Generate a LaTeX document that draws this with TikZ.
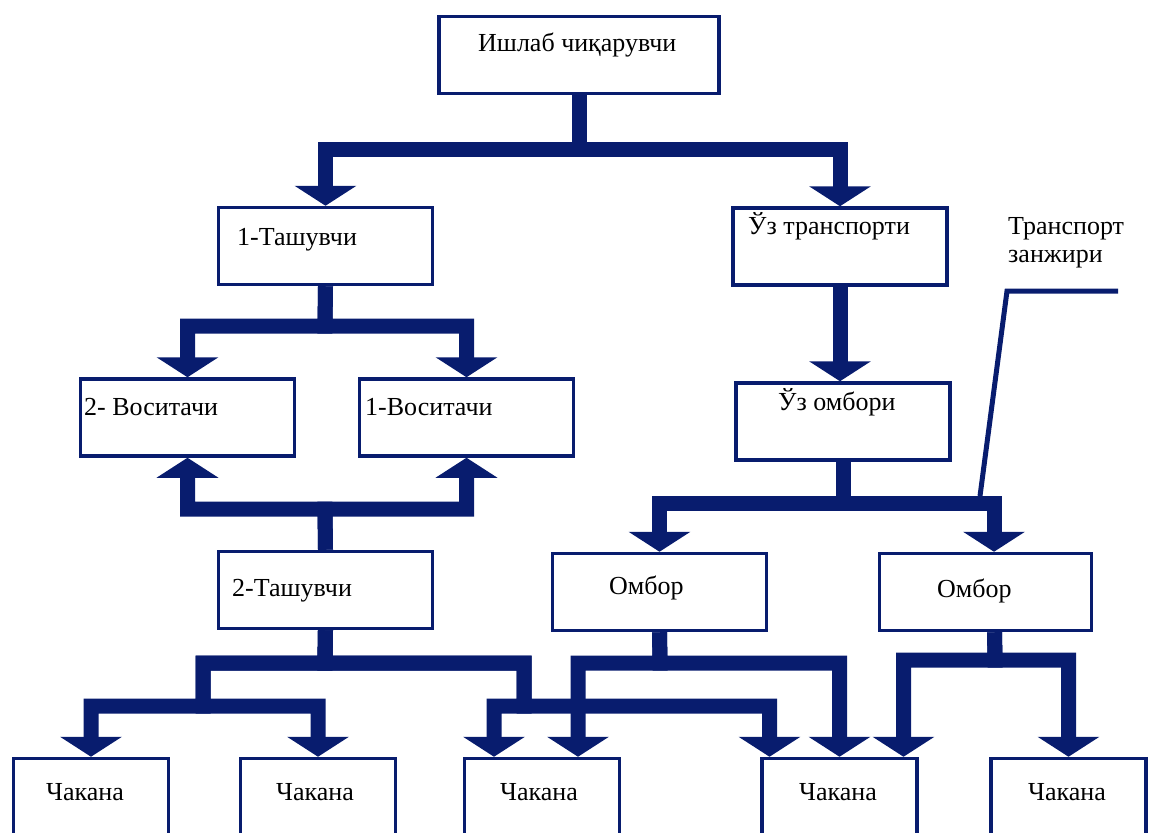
\documentclass[tikz,border=0pt]{standalone}
\usepackage{fontspec}
\setmainfont{Liberation Serif}
\usetikzlibrary{arrows.meta}

\definecolor{navy}{RGB}{8,28,110}

\tikzset{
  box/.style={rectangle, draw=navy, line width=3.5pt, minimum width=214pt, minimum height=77pt, inner sep=0pt},
  txt/.style={font=\fontsize{26}{28}\selectfont, inner sep=0pt, anchor=base west},
  flow/.style={line width=15pt, draw=navy, -{Triangle[width=61pt, length=20pt]}},
  hint/.style={line width=5pt, draw=navy},
}

\begin{document}
\begin{tikzpicture}[x=1pt, y=-1pt]
  \useasboundingbox (0,0) rectangle (1150,832);
  \clip (0,0) rectangle (1150,832);

  % Bloklar
  \node[box, minimum width=280pt] (ishlab) at (579, 55)    {};
  \node[box] (tash1)  at (325.5, 246)   {};
  \node[box] (uztr)   at (840, 246.5)   {};
  \node[box] (vos2)   at (187.5, 417.5) {};
  \node[box] (vos1)   at (466.5, 417.5) {};
  \node[box] (uzomb)  at (843, 421.5)   {};
  \node[box] (tash2)  at (325.5, 590)   {};
  \node[box] (omb1)   at (659.5, 592)   {};
  \node[box, minimum width=212pt] (omb2) at (985.5, 592) {};

  % Chakana (pastki qator)
  \node[box, minimum width=155pt] (chak1) at (91, 797)     {};
  \node[box, minimum width=155pt] (chak2) at (318, 797)    {};
  \node[box, minimum width=155pt] (chak3) at (542, 797)    {};
  \node[box, minimum width=155pt] (chak4) at (839.5, 797)  {};
  \node[box, minimum width=155pt] (chak5) at (1068.5, 797) {};

  % Matnlar
  \node[txt] (ishlab-t) at (478, 52)  {Ишлаб чиқарувчи};
  \node[txt] (tash1-t)  at (237, 245) {1-Ташувчи};
  \node[txt] (uztr-t)   at (748, 234) {Ўз транспорти};
  \node[txt] (vos2-t)   at (84, 415)  {2- Воситачи};
  \node[txt] (vos1-t)   at (365, 415) {1-Воситачи};
  \node[txt] (uzomb-t)  at (778, 410) {Ўз омбори};
  \node[txt] (tash2-t)  at (232, 596) {2-Ташувчи};
  \node[txt] (omb1-t)   at (609, 594) {Омбор};
  \node[txt] (omb2-t)   at (937, 597) {Омбор};
  \node[txt] (chak1-t)  at (46, 800)   {Чакана};
  \node[txt] (chak2-t)  at (276, 800)  {Чакана};
  \node[txt] (chak3-t)  at (500, 800)  {Чакана};
  \node[txt] (chak4-t)  at (799, 800)  {Чакана};
  \node[txt] (chak5-t)  at (1028, 800) {Чакана};
  \node[txt, anchor=north west, align=left] (zanjir) at (1008, 217) {Транспорт\\занжири};

  % Tugunlar
  \coordinate (j0) at (579, 149);
  \coordinate (j1) at (325, 326);
  \coordinate (j2) at (325, 509);
  \coordinate (j3) at (843, 503);
  \coordinate (j4) at (325, 663);
  \coordinate (j5) at (203, 706);
  \coordinate (j6) at (524, 706);
  \coordinate (j7) at (660, 663);
  \coordinate (j8) at (995, 660);

  % Ulanishlar
  \draw[flow] (ishlab.south) -- (j0) -| (tash1.north);
  \draw[flow] (ishlab.south) -- (j0) -| (uztr.north);
  \draw[flow] (tash1.south) -- (j1) -| (vos2.north);
  \draw[flow] (tash1.south) -- (j1) -| (vos1.north);
  \draw[flow] (tash2.north) -- (j2) -| (vos2.south);
  \draw[flow] (tash2.north) -- (j2) -| (vos1.south);
  \draw[flow] (uztr.south) -- (uztr.south |- uzomb.north);
  \draw[flow] (uzomb.south) -- (j3) -| (omb1.north);
  \draw[flow] (uzomb.south) -- (j3) -| ([xshift=8.5pt]omb2.north);
  \draw[flow] (tash2.south) -- (j4) -| (j5) -| (chak1.north);
  \draw[flow] (tash2.south) -- (j4) -| (j5) -| (chak2.north);
  \draw[flow] (tash2.south) -- (j4) -| (j6) -| ([xshift=-48pt]chak3.north);
  \draw[flow] (tash2.south) -- (j4) -| (j6) -| ([xshift=-70pt]chak4.north);
  \draw[flow] (omb1.south) -- (j7) -| ([xshift=36pt]chak3.north);
  \draw[flow] (omb1.south) -- (j7) -| (chak4.north);
  \draw[flow] ([xshift=9pt]omb2.south) -- (j8) -| ([xshift=64pt]chak4.north);
  \draw[flow] ([xshift=9pt]omb2.south) -- (j8) -| (chak5.north);

  % Transport zanjiri ko'rsatkichi
  \coordinate (p1) at (1118, 291);
  \coordinate (p2) at (1007, 291);
  \coordinate (p3) at (980, 496);
  \draw[hint] (p1) -- (p2) -- (p3);
\end{tikzpicture}
\end{document}
